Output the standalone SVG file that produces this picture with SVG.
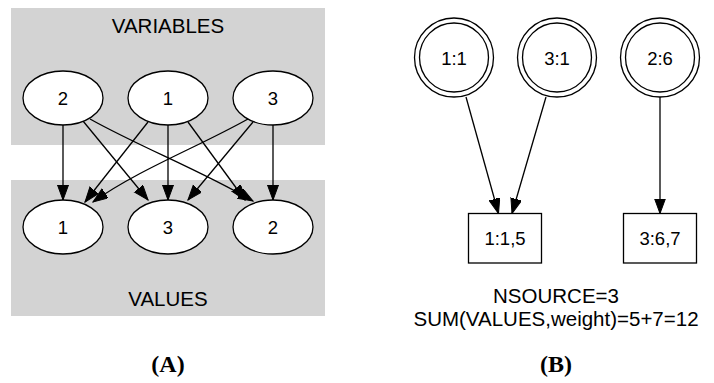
<svg xmlns="http://www.w3.org/2000/svg" width="714" height="383" viewBox="0 0 714 383">
<style>
.bg{fill:#d3d3d3;stroke:none}
.n{fill:#fff;stroke:#000;stroke-width:1.3}
.e{fill:none;stroke:#000;stroke-width:1.3}
.t{font-family:"Liberation Sans",Arial,sans-serif;font-size:18.5px;text-anchor:middle;fill:#000}
.lbl{font-family:"Liberation Sans",Arial,sans-serif;font-size:20.5px;text-anchor:middle;fill:#000}
.cap{font-family:"Liberation Serif","Times New Roman",serif;font-size:24px;font-weight:bold;text-anchor:middle;fill:#000}
</style>
<defs>
<marker id="ah" markerUnits="userSpaceOnUse" markerWidth="16" markerHeight="12" refX="15" refY="5.5" orient="auto" viewBox="0 0 16 12">
<path d="M0,0 L15,5.5 L0,11 z" fill="#000" stroke="#000" stroke-width="1"/>
</marker>
</defs>
<rect class="bg" x="11" y="8" width="314" height="137"/>
<rect class="bg" x="11" y="180" width="314" height="136"/>
<text class="lbl" x="168" y="33">VARIABLES</text>
<text class="lbl" x="168" y="306">VALUES</text>
<g id="connectors">
<path class="e" d="M63,125 L63,200" marker-end="url(#ah)"/>
<path class="e" d="M83,121 L148,200" marker-end="url(#ah)"/>
<path class="e" d="M90,119 C140,147 200,170 253,201" marker-end="url(#ah)"/>
<path class="e" d="M148,122 L85,202" marker-end="url(#ah)"/>
<path class="e" d="M168,125 L168,200" marker-end="url(#ah)"/>
<path class="e" d="M188,122 L245,200" marker-end="url(#ah)"/>
<path class="e" d="M248,119 C198,147 138,170 93,202" marker-end="url(#ah)"/>
<path class="e" d="M253,122 L188,200" marker-end="url(#ah)"/>
<path class="e" d="M273,125 L273,200" marker-end="url(#ah)"/>
<path class="e" d="M466,97 L498.5,213.5" marker-end="url(#ah)"/>
<path class="e" d="M546,97 L512,213.5" marker-end="url(#ah)"/>
<path class="e" d="M660,97 L660,213.5" marker-end="url(#ah)"/>
</g>
<g id="var2"><ellipse class="n" cx="63" cy="98" rx="40" ry="27"/><text class="t" x="63" y="105">2</text></g>
<g id="var1"><ellipse class="n" cx="168" cy="98" rx="40" ry="27"/><text class="t" x="168" y="105">1</text></g>
<g id="var3"><ellipse class="n" cx="273" cy="98" rx="40" ry="27"/><text class="t" x="273" y="105">3</text></g>
<g id="val1"><ellipse class="n" cx="63" cy="227" rx="40" ry="27"/><text class="t" x="63" y="234">1</text></g>
<g id="val3"><ellipse class="n" cx="168" cy="227" rx="40" ry="27"/><text class="t" x="168" y="234">3</text></g>
<g id="val2"><ellipse class="n" cx="273" cy="227" rx="40" ry="27"/><text class="t" x="273" y="234">2</text></g>
<g id="s11"><circle class="n" cx="454" cy="57.5" r="39.5"/><circle class="n" cx="454" cy="57.5" r="34.5"/><text class="t" x="454" y="64.5">1:1</text></g>
<g id="s31"><circle class="n" cx="557" cy="57.5" r="39.5"/><circle class="n" cx="557" cy="57.5" r="34.5"/><text class="t" x="557" y="64.5">3:1</text></g>
<g id="s26"><circle class="n" cx="660" cy="57.5" r="39.5"/><circle class="n" cx="660" cy="57.5" r="34.5"/><text class="t" x="660" y="64.5">2:6</text></g>
<g id="b115"><rect class="n" x="468.5" y="213.5" width="73" height="49.5"/><text class="t" x="505" y="245">1:1,5</text></g>
<g id="b367"><rect class="n" x="623.5" y="213.5" width="73" height="49.5"/><text class="t" x="660" y="245">3:6,7</text></g>
<text class="lbl" x="556" y="303">NSOURCE=3</text>
<text class="lbl" x="556" y="326">SUM(VALUES,weight)=5+7=12</text>
<text class="cap" x="168" y="372">(A)</text>
<text class="cap" x="556" y="372">(B)</text>
</svg>
